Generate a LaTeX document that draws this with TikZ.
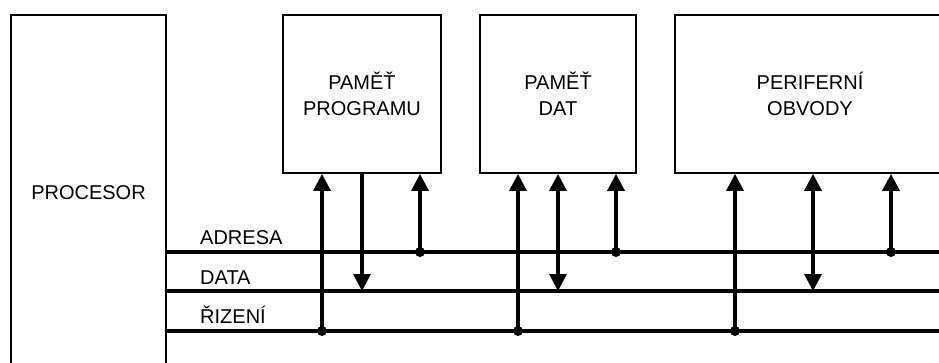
\documentclass[tikz,border=0pt]{standalone}
\usepackage{fontspec}
\setmainfont{Liberation Sans}
\usetikzlibrary{arrows.meta}

\begin{document}
\begin{tikzpicture}[x=1pt,y=-1pt,
  blok/.style={draw,line width=1.8pt,inner sep=0pt,align=center,
    font=\fontsize{20}{26}\selectfont},
  popis/.style={anchor=base west,inner sep=0pt,font=\fontsize{20}{24}\selectfont},
  sbernice/.style={line width=3.4pt},
  sipka/.style={line width=3.4pt,-{Triangle[width=17pt,length=17pt]}},
  obousmer/.style={line width=3.4pt,{Triangle[width=17pt,length=17pt]}-{Triangle[width=17pt,length=17pt]}},
  uzel/.style={circle,fill,inner sep=0pt,minimum size=10pt}]
\useasboundingbox (0,0) rectangle (939,363);
\clip (0,0) rectangle (939,363);
\fill[white] (0,0) rectangle (939,363);
% bloky
\node[blok,minimum width=155pt,minimum height=356pt] (proc) at (88.5,193) {PROCESOR};
\node[blok,minimum width=158pt,minimum height=158pt] (prog) at (362,94) {PAMĚŤ\\PROGRAMU};
\node[blok,minimum width=156pt,minimum height=158pt] (dat) at (558,94) {PAMĚŤ\\DAT};
\node[blok,minimum width=270pt,minimum height=158pt] (per) at (810,94) {PERIFERNÍ\\OBVODY};
% sbernice
\coordinate (adr-a) at (proc.east |- 0,252);
\coordinate (adr-b) at (950,252);
\coordinate (dat-a) at (proc.east |- 0,291);
\coordinate (dat-b) at (950,291);
\coordinate (riz-a) at (proc.east |- 0,331);
\coordinate (riz-b) at (950,331);
\draw[sbernice] (adr-a) -- (adr-b);
\draw[sbernice] (dat-a) -- (dat-b);
\draw[sbernice] (riz-a) -- (riz-b);
\node[popis] (l-adr) at (200,245) {ADRESA};
\node[popis] (l-dat) at (200,284) {DATA};
\node[popis] (l-riz) at (200,323) {ŘIZENÍ};
% odbocky
\coordinate (p1) at (322,331);
\coordinate (p2) at (362,291);
\coordinate (p3) at (420,252);
\coordinate (d1) at (518,331);
\coordinate (d2) at (558,291);
\coordinate (d3) at (616,252);
\coordinate (o1) at (735,331);
\coordinate (o2) at (813,291);
\coordinate (o3) at (891,252);
\draw[sipka] (p1) -- (p1 |- prog.south);
\draw[sipka] (p2 |- prog.south) -- (p2);
\draw[sipka] (p3) -- (p3 |- prog.south);
\draw[sipka] (d1) -- (d1 |- dat.south);
\draw[obousmer] (d2) -- (d2 |- dat.south);
\draw[sipka] (d3) -- (d3 |- dat.south);
\draw[sipka] (o1) -- (o1 |- per.south);
\draw[obousmer] (o2) -- (o2 |- per.south);
\draw[sipka] (o3) -- (o3 |- per.south);
\foreach \b in {p1,p3,d1,d3,o1,o3}
  \node[uzel] at (\b) {};
\end{tikzpicture}
\end{document}
